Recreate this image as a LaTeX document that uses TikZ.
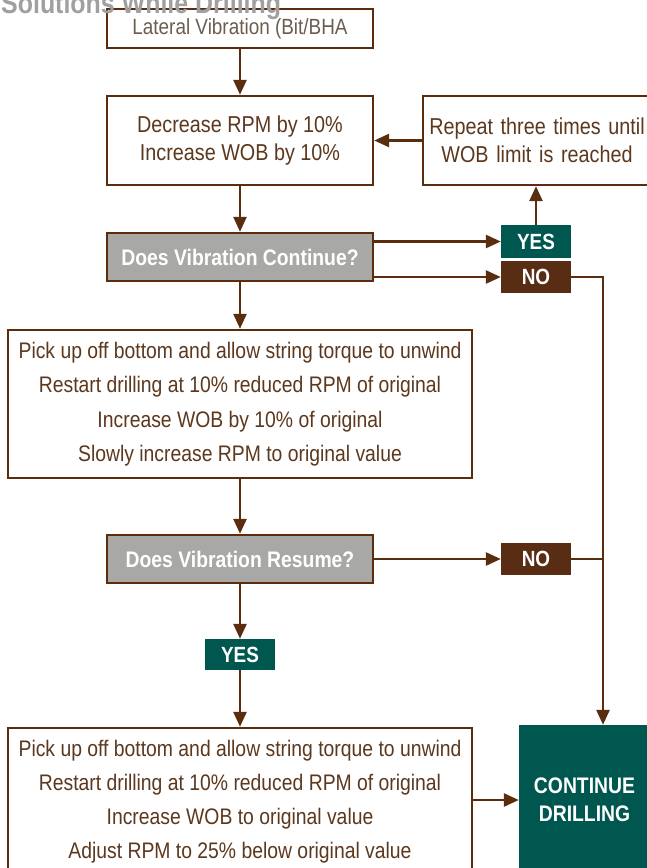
\documentclass[tikz,border=0pt]{standalone}
\usepackage{fontspec}
\setmainfont{Liberation Sans}
\newfontfamily\nf[FakeStretch=0.86]{Liberation Sans}
\usetikzlibrary{arrows.meta,calc}
\definecolor{lnbrown}{RGB}{90,45,14}
\definecolor{txbrown}{RGB}{92,56,30}
\definecolor{txgray}{RGB}{107,94,80}
\definecolor{decgray}{RGB}{168,169,167}
\definecolor{teal}{RGB}{0,87,79}
\definecolor{nobrown}{RGB}{88,45,20}
\definecolor{titlegray}{RGB}{160,160,160}
\tikzset{
  box/.style={draw=lnbrown, line width=2.4pt, fill=white, inner sep=0pt, align=center, text=txbrown},
  dec/.style={draw=lnbrown, line width=2.4pt, fill=decgray, inner sep=0pt, minimum width=266pt, minimum height=48pt, text=white, font=\nf\bfseries\fontsize{22.5}{26}\selectfont},
  yesbox/.style={fill=teal, inner sep=0pt, minimum width=70pt, minimum height=32pt, text=white, font=\nf\bfseries\fontsize{22}{26}\selectfont},
  nobox/.style={fill=nobrown, inner sep=0pt, minimum width=70pt, minimum height=32pt, text=white, font=\nf\bfseries\fontsize{22}{26}\selectfont},
  conn/.style={draw=lnbrown, line width=2.6pt, -{Triangle[length=15pt,width=13pt]}},
  plain/.style={draw=lnbrown, line width=2.6pt}
}
\begin{document}
\begin{tikzpicture}[x=1pt,y=-1pt]
\path[use as bounding box, clip] (0,0) rectangle (647,868);
\fill[white] (0,0) rectangle (647,868);
\coordinate (jx) at (603,0);
\node[box, minimum width=266pt, minimum height=39pt, text=txgray, font=\nf\fontsize{22}{26}\selectfont] (b1) at (240,28.5) {Lateral Vibration (Bit/BHA};
\node[box, minimum width=266pt, minimum height=89pt, font=\nf\fontsize{23}{28}\selectfont] (b2) at (240,140.5) {Decrease RPM by 10\%\\Increase WOB by 10\%};
\node[box, minimum width=228pt, minimum height=89pt, font=\nf\fontsize{23}{28}\selectfont, text width=228pt] (b3) at (537,140.5) {Repeat three times until\\WOB limit is reached};
\node[dec] (d1) at (240,257) {Does Vibration Continue?};
\node[yesbox, minimum height=33pt] (y1) at (536,241.5) {YES};
\node[nobox] (n1) at (536,277) {NO};
\node[box, minimum width=464pt, minimum height=148pt, font=\nf\fontsize{22.5}{34.5}\selectfont] (b4) at (240,404) {Pick up off bottom and allow string torque to unwind\\Restart drilling at 10\% reduced RPM of original\\Increase WOB by 10\% of original\\Slowly increase RPM to original value};
\node[dec] (d2) at (240,559) {Does Vibration Resume?};
\node[nobox] (n2) at (536,559) {NO};
\node[yesbox, minimum height=31pt] (y2) at (240,654.5) {YES};
\node[box, minimum width=464pt, minimum height=148pt, font=\nf\fontsize{22.5}{34}\selectfont] (b5) at (240,802) {Pick up off bottom and allow string torque to unwind\\Restart drilling at 10\% reduced RPM of original\\Increase WOB to original value\\Adjust RPM to 25\% below original value};
\node[fill=teal, inner sep=0pt, minimum width=131pt, minimum height=150pt, text=white, align=center, font=\nf\bfseries\fontsize{22.5}{28}\selectfont] (c) at (584.5,800) {CONTINUE\\DRILLING};
\node[anchor=base west, inner sep=0pt, text=titlegray, font=\nf\bfseries\fontsize{29}{32}\selectfont] (title) at (1,13) {Solutions While Drilling};
% connectors
\draw[conn] (b1.south) -- (b2.north);
\draw[conn] (b3.west |- b2.east) -- (b2.east);
\draw[conn] (b2.south) -- (d1.north);
\draw[conn] (d1.east |- y1.west) -- (y1.west);
\draw[conn] (d1.east |- n1.west) -- (n1.west);
\draw[conn] (y1.north) -- (y1.north |- b3.south);
\draw[conn] (n1.east) -| (c.north -| jx);
\draw[plain] (n2.east) -- (n2.east -| jx);
\draw[conn] (d1.south) -- (b4.north);
\draw[conn] (b4.south) -- (d2.north);
\draw[conn] (d2.east) -- (n2.west);
\draw[conn] (d2.south) -- (y2.north);
\draw[conn] (y2.south) -- (b5.north);
\draw[conn] (b5.east |- c.west) -- (c.west);
\end{tikzpicture}
\end{document}
